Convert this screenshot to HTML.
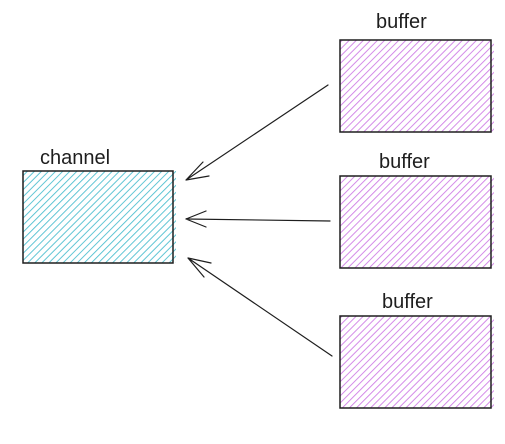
<!DOCTYPE html>
<html><head><style>html,body{margin:0;padding:0;background:#fff}</style></head>
<body>
<svg width="505" height="439" xmlns="http://www.w3.org/2000/svg">
<defs>
<pattern id="hc" patternUnits="userSpaceOnUse" width="5" height="5" patternTransform="rotate(45)">
<line x1="0" y1="0" x2="0" y2="5" stroke="#4fbfd0" stroke-width="1.8"/></pattern>
<pattern id="hp" patternUnits="userSpaceOnUse" width="5" height="5" patternTransform="rotate(45)">
<line x1="0" y1="0" x2="0" y2="5" stroke="#cf7fe6" stroke-width="1.8"/></pattern>
</defs>
<g font-family="'Comic Sans MS','Liberation Sans',sans-serif" font-size="20" fill="#1e1e1e">
<text x="40" y="164">channel</text>
<text x="376" y="28">buffer</text>
<text x="379" y="168">buffer</text>
<text x="382" y="308">buffer</text>
</g>
<rect x="23" y="171" width="153" height="92" fill="url(#hc)"/>
<rect x="23" y="171" width="150" height="92" fill="none" stroke="#1e1e1e" stroke-width="1.5"/>
<rect x="340" y="40" width="154" height="92" fill="url(#hp)"/>
<rect x="340" y="40" width="151" height="92" fill="none" stroke="#1e1e1e" stroke-width="1.5"/>
<rect x="340" y="176" width="154" height="92" fill="url(#hp)"/>
<rect x="340" y="176" width="151" height="92" fill="none" stroke="#1e1e1e" stroke-width="1.5"/>
<rect x="340" y="316" width="154" height="92" fill="url(#hp)"/>
<rect x="340" y="316" width="151" height="92" fill="none" stroke="#1e1e1e" stroke-width="1.5"/>
<g stroke="#1e1e1e" stroke-width="1.2" fill="none" stroke-linecap="round">
<path d="M328 85 L186 180 M186 180 L203 162 M186 180 L209 176"/>
<path d="M330 221 L186 219 M186 219 L206 211 M186 219 L206 227"/>
<path d="M332 356 L188 258 M188 258 L211 263 M188 258 L204 277"/>
</g>
</svg>
</body></html>
